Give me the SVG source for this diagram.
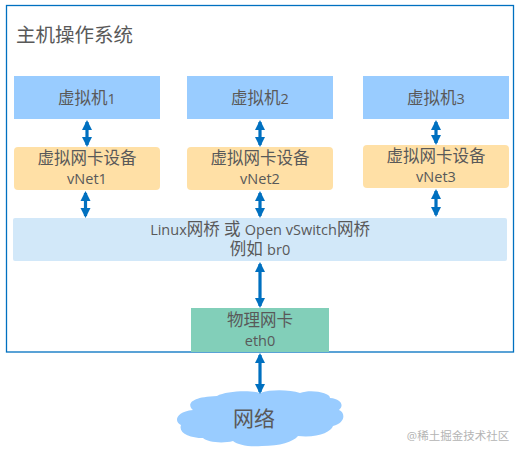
<svg xmlns="http://www.w3.org/2000/svg" width="520" height="455" viewBox="0 0 520 455">
<style>
text{font-family:"Open Sans","Noto Sans CJK SC",sans-serif;fill:#595959;text-anchor:middle;font-size:16.500px}
.l{font-size:14.500px}
.vm{fill:#99ccff}.nic{fill:#ffe0a6}
.c{stroke:#0070c0;stroke-width:3.200;fill:none;marker-start:url(#a);marker-end:url(#a)}
</style>
<defs><marker id="a" markerUnits="userSpaceOnUse" markerWidth="11" markerHeight="11" refX="8" refY="5.500" orient="auto-start-reverse"><path d="M0 0.500L10 5.500L0 10.500Z" fill="#0070c0"/></marker></defs>
<rect width="520" height="455" fill="#fff"/>
<g id="host"><rect x="6.500" y="5.500" width="507" height="346.500" fill="#fff" stroke="#0070c0" stroke-width="1.300"/>
<text x="74.500" y="42" style="font-size:19.500px">主机操作系统</text></g>
<g id="vm1"><rect class="vm" x="14" y="76" width="146" height="43"/><text x="87" y="104">虚拟机<tspan class="l">1</tspan></text></g>
<g id="vm2"><rect class="vm" x="187" y="76" width="146" height="43"/><text x="260" y="104">虚拟机<tspan class="l">2</tspan></text></g>
<g id="vm3"><rect class="vm" x="363" y="76" width="146" height="43"/><text x="436" y="104">虚拟机<tspan class="l">3</tspan></text></g>
<g id="vnet1"><rect class="nic" x="14" y="147" width="146" height="43" rx="4"/><text x="87" y="164">虚拟网卡设备</text><text class="l" x="87" y="184">vNet1</text></g>
<g id="vnet2"><rect class="nic" x="187" y="147" width="146" height="43" rx="4"/><text x="260" y="164">虚拟网卡设备</text><text class="l" x="260" y="184">vNet2</text></g>
<g id="vnet3"><rect class="nic" x="363" y="145" width="146" height="43" rx="4"/><text x="436" y="162">虚拟网卡设备</text><text class="l" x="436" y="182">vNet3</text></g>
<g id="bridge"><rect x="13" y="218" width="494" height="43" rx="2" fill="#d2e8f9"/><text x="260" y="235"><tspan class="l">Linux</tspan>网桥 或 <tspan class="l">Open vSwitch</tspan>网桥</text><text x="260" y="255">例如 <tspan class="l">br0</tspan></text></g>
<g id="eth0"><rect x="191" y="308" width="138" height="44" fill="#82cfb9"/><text x="260" y="326">物理网卡</text><text class="l" x="260" y="346">eth0</text></g>
<g id="network"><path d="M193 410C187 405 189 397 217 396C226 391 250 390 260 393C272 389 290 390 300 393C312 389 330 393 330 398C342 399 344 406 339 410C346 413 345 423 333 426C331 432 318 438 298 436C293 442 280 446 262 446C248 447 238 445 233 441C222 444 207 442 203 438C190 438 178 433 181 425C174 422 175 412 193 410Z" fill="#99ccff"/><text x="254" y="426" style="font-size:21px">网络</text></g>
<g id="connectors">
<path class="c" d="M87 122V145"/><path class="c" d="M85.500 193V216"/>
<path class="c" d="M260 122V145"/><path class="c" d="M260 193V216"/>
<path class="c" d="M436 122V143"/><path class="c" d="M436 191V215"/>
<path class="c" d="M260 264V306"/><path class="c" d="M260 355V392"/>
</g>
<text x="458" y="440" style="font-size:11.500px;fill:#b4b4b4">@稀土掘金技术社区</text>
</svg>
